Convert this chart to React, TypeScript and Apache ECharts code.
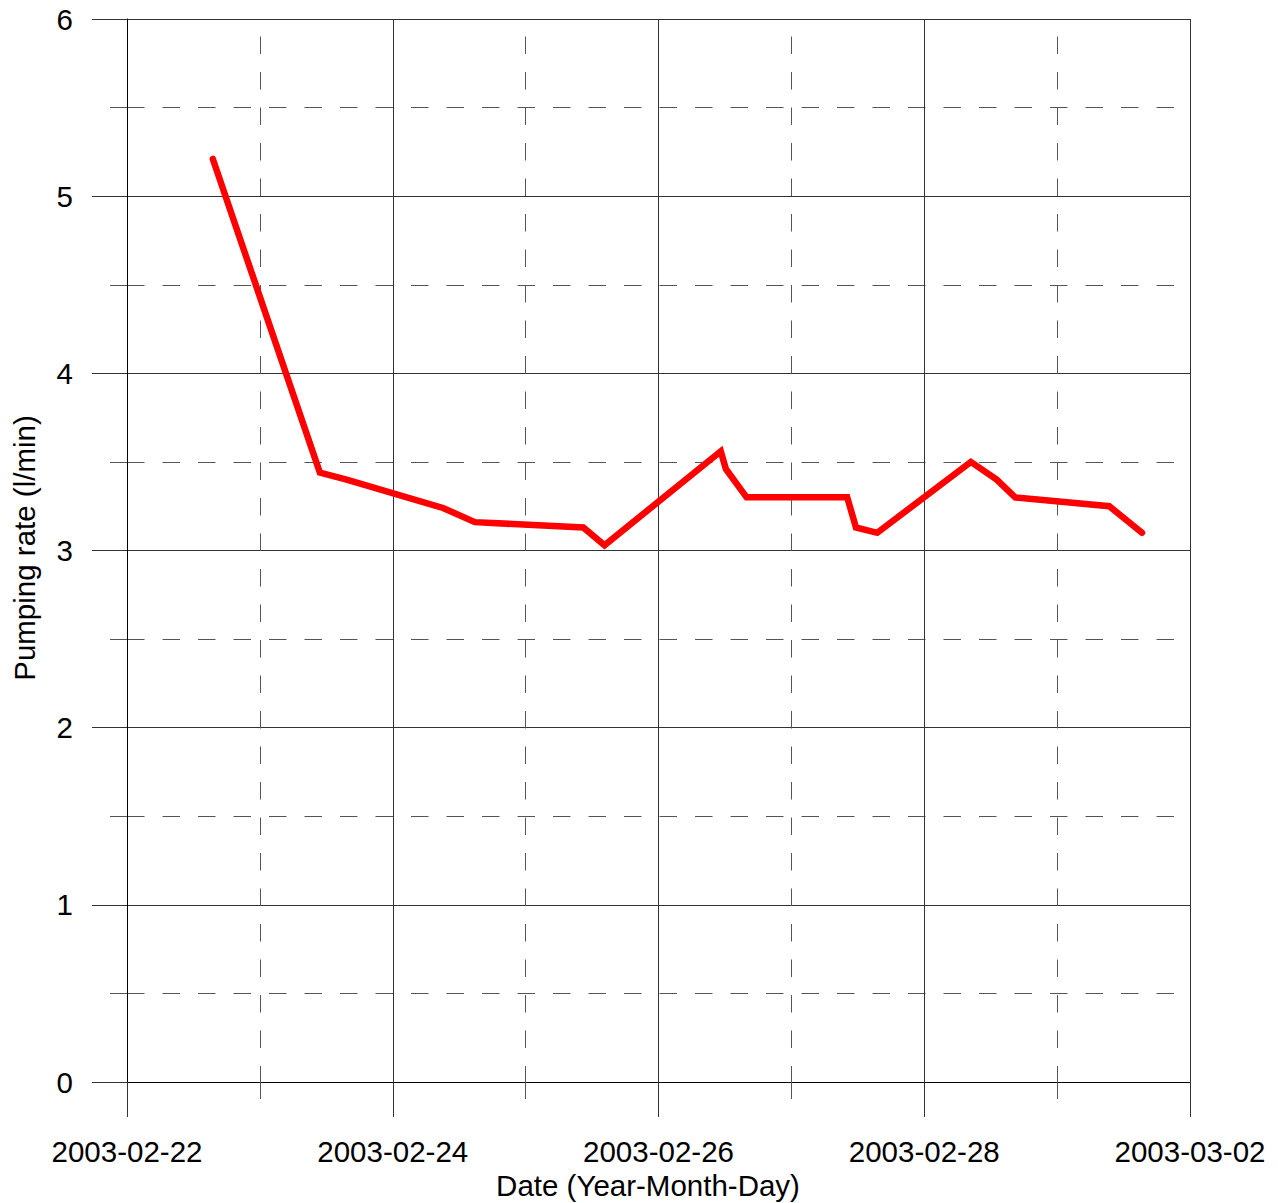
import React, { useEffect, useRef } from "react";
import * as echarts from "echarts";

const BASE_DATE = "2003-02-22";
const X_MAX_DAYS = 8;
const Y_MIN = 0;
const Y_MAX = 6;

const times = [
  "2003-02-22T15:30",
  "2003-02-23T10:50",
  "2003-02-23T15:40",
  "2003-02-24T09:05",
  "2003-02-24T14:50",
  "2003-02-25T10:25",
  "2003-02-25T14:15",
  "2003-02-26T11:15",
  "2003-02-26T12:10",
  "2003-02-26T15:55",
  "2003-02-27T10:05",
  "2003-02-27T11:40",
  "2003-02-27T15:30",
  "2003-02-28T08:25",
  "2003-02-28T13:05",
  "2003-02-28T16:25",
  "2003-03-01T09:25",
  "2003-03-01T15:20",
];

const pumpingRate = [
  5.21, 3.44, 3.4, 3.24, 3.16, 3.13, 3.03, 3.56, 3.46, 3.3, 3.3, 3.13, 3.1, 3.5,
  3.4, 3.3, 3.25, 3.1,
];

const xTitle = "Date (Year-Month-Day)";
const yTitle = "Pumping rate (l/min)";

function toUTC(s: string): number {
  const [d, t] = s.split("T");
  const [y, m, dd] = d.split("-").map(Number);
  let hh = 0,
    mm = 0;
  if (t) {
    [hh, mm] = t.split(":").map(Number);
  }
  return Date.UTC(y, m - 1, dd, hh, mm);
}

const baseMs = toUTC(BASE_DATE);
const DAY = 86400000;

function fmtDay(v: number): string {
  const d = new Date(baseMs + Math.round(v * DAY));
  const p = (n: number) => String(n).padStart(2, "0");
  return `${d.getUTCFullYear()}-${p(d.getUTCMonth() + 1)}-${p(d.getUTCDate())}`;
}

const FONT = "'Liberation Sans', Arial, Helvetica, sans-serif";

export default function App() {
  const ref = useRef<HTMLDivElement>(null);
  useEffect(() => {
    if (!ref.current) return;
    const chart = echarts.init(ref.current, undefined, { renderer: "svg" });
    const seriesData = times.map((t, i) => [(toUTC(t) - baseMs) / DAY, pumpingRate[i]]);
    const solid = { color: "#333", width: 1 };
    const dashed = { color: "#555", width: 1, type: [17.5, 18] as any };
    chart.setOption({
      animation: false,
      backgroundColor: "#fff",
      grid: { left: 127, right: 88, top: 19, bottom: 121, containLabel: false },
      xAxis: {
        type: "value",
        min: 0,
        max: X_MAX_DAYS,
        interval: 2,
        axisLine: { show: true, lineStyle: { color: "#000", width: 1 } },
        axisTick: { show: true, length: 35, lineStyle: solid },
        minorTick: { show: true, splitNumber: 2, length: 17, lineStyle: { color: "#555", width: 1 } },
        splitLine: { show: true, lineStyle: solid },
        minorSplitLine: { show: true, lineStyle: { ...dashed, dashOffset: 17.5 } },
        axisLabel: {
          show: true,
          margin: 54,
          fontSize: 29.5,
          color: "#000",
          fontFamily: FONT,
          showMaxLabel: true,
          showMinLabel: true,
          formatter: (v: number) => fmtDay(v),
        },
      },
      yAxis: {
        type: "value",
        min: Y_MIN,
        max: Y_MAX,
        interval: 1,
        axisLine: { show: true, lineStyle: { color: "#000", width: 1 } },
        axisTick: { show: true, length: 35, lineStyle: solid },
        minorTick: { show: true, splitNumber: 2, length: 17, lineStyle: { color: "#555", width: 1 } },
        splitLine: { show: true, lineStyle: solid },
        minorSplitLine: { show: true, lineStyle: dashed },
        axisLabel: {
          show: true,
          margin: 54,
          fontSize: 29.5,
          color: "#000",
          fontFamily: FONT,
        },
      },
      graphic: [
        {
          type: "text",
          x: 648,
          y: 1185,
          style: {
            text: xTitle,
            fontSize: 29.5,
            fontFamily: FONT,
            fill: "#000",
            textAlign: "center",
            textVerticalAlign: "middle",
          },
        },
        {
          type: "text",
          x: 24,
          y: 548,
          rotation: Math.PI / 2,
          style: {
            text: yTitle,
            fontSize: 29.5,
            fontFamily: FONT,
            fill: "#000",
            textAlign: "center",
            textVerticalAlign: "middle",
          },
        },
      ],
      series: [
        {
          type: "line",
          data: seriesData,
          showSymbol: false,
          symbol: "none",
          lineStyle: { color: "#ff0000", width: 6.5, cap: "round", join: "miter" },
          z: 10,
        },
      ],
    });
    return () => chart.dispose();
  }, []);
  return (
    <div
      ref={ref}
      style={{ position: "fixed", left: 0, top: 0, width: 1278, height: 1203, background: "#fff" }}
    />
  );
}
